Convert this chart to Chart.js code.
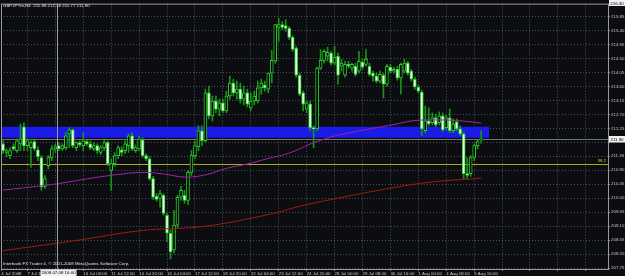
<!DOCTYPE html>
<html>
<head>
<title>GBPJPYm,H4</title>
<script src="https://cdn.jsdelivr.net/npm/chart.js"></script>
<style>
    html, body { margin: 0; padding: 0; background: #0c0d11; }
    #chart { display: block; }
</style>
</head>
<body>
<canvas id="chart" width="625" height="276"></canvas>
<script>
// H4 bars (bar 0 = first bar on the left)
const opens = [211.75,211.47,211.37,211.66,211.53,211.75,212.30,211.69,211.63,211.82,211.56,211.31,210.38,211.05,211.31,211.59,211.69,211.59,211.63,212.07,
    212.20,211.63,211.79,211.69,211.82,211.75,211.59,211.69,211.47,211.63,211.79,210.89,211.11,211.37,211.56,211.53,211.69,212.01,211.53,211.59,
    211.88,211.37,211.27,210.63,210.06,209.99,210.09,209.45,208.87,208.33,209.13,210.03,210.09,209.93,210.83,211.37,211.66,212.17,211.85,213.39,
    212.65,213.13,212.87,213.07,212.81,213.29,213.71,213.39,213.51,213.19,213.39,212.91,213.13,213.13,213.55,213.64,213.51,214.03,214.41,215.50,
    215.59,215.56,215.47,215.18,214.83,213.96,213.39,212.87,213.03,212.27,212.23,214.19,214.44,214.57,214.67,214.35,214.57,214.25,213.96,214.31,
    214.19,214.25,214.09,214.38,214.31,214.25,214.03,213.93,213.77,213.96,213.67,214.22,214.09,214.15,213.87,214.09,214.35,214.09,213.83,213.58,
    213.42,212.17,212.49,212.43,212.59,212.43,212.65,212.27,212.59,212.17,212.46,212.23,212.07,210.79,210.79,211.31,211.69,211.88];
const highs = [211.85,211.59,211.63,211.75,211.91,212.39,212.43,211.91,211.85,211.91,211.66,211.37,210.73,211.37,211.69,211.75,211.79,211.75,212.11,212.27,
    212.23,211.82,211.85,212.11,211.88,211.85,211.79,211.75,211.69,211.91,211.85,211.27,211.47,211.69,211.66,211.85,212.07,212.11,211.72,212.01,
    211.95,211.43,211.34,210.70,210.15,210.25,210.15,209.51,208.97,209.61,210.09,210.38,210.25,210.89,211.53,211.85,212.33,212.33,213.51,213.61,
    213.29,213.29,213.19,213.19,213.45,213.93,213.83,213.77,213.71,213.61,213.51,213.39,213.45,213.77,213.83,213.77,214.03,214.76,215.59,215.79,
    215.69,215.75,215.53,215.24,214.89,214.03,213.45,213.13,213.13,212.33,214.22,214.79,214.79,214.86,214.73,214.89,214.67,214.47,214.41,214.41,
    214.35,214.35,214.73,214.47,214.79,214.35,214.09,214.03,214.09,214.03,214.31,214.31,214.22,214.25,214.35,214.47,214.41,214.15,213.90,213.64,
    213.48,212.97,212.91,212.75,212.71,212.78,212.75,212.68,212.87,212.55,212.55,212.33,212.14,211.31,211.37,211.75,211.88,212.18];
const lows = [211.43,211.34,211.27,211.53,211.47,211.53,211.53,211.53,210.99,211.53,211.21,210.25,210.31,210.95,211.21,211.47,211.53,211.53,211.56,211.63,
    211.63,211.53,211.66,211.53,211.69,211.56,211.53,211.43,211.40,211.53,211.05,210.25,211.02,211.27,211.37,211.43,211.47,211.53,211.47,211.53,
    211.31,211.21,210.57,209.96,209.90,209.71,209.45,208.59,208.04,208.23,209.03,209.93,209.83,209.80,210.73,211.27,211.53,211.69,211.79,212.55,
    212.49,212.75,212.65,212.75,212.75,213.19,213.29,213.19,213.07,213.00,212.94,212.81,213.00,213.07,213.35,213.45,213.39,213.71,214.35,215.05,
    215.43,215.37,215.11,214.73,213.90,213.29,212.81,212.75,212.17,211.63,212.17,214.15,214.35,214.41,214.28,214.28,213.67,214.09,213.90,214.19,
    214.09,213.93,214.03,214.15,214.25,213.93,213.77,213.71,213.71,213.23,213.61,214.03,214.03,213.80,213.35,214.03,213.96,213.77,213.51,213.39,
    212.01,212.11,212.33,212.36,212.30,212.36,212.14,212.20,212.11,212.11,212.17,212.01,210.63,210.63,210.70,211.21,211.59,211.77];
const closes = [211.53,211.53,211.53,211.59,211.85,211.91,211.69,211.85,211.79,211.59,211.34,210.35,210.63,211.31,211.59,211.66,211.59,211.69,212.01,212.20,
    211.69,211.79,211.72,211.85,211.75,211.63,211.69,211.53,211.63,211.79,211.11,211.11,211.37,211.63,211.47,211.75,212.01,211.59,211.63,211.91,
    211.37,211.27,210.63,210.03,209.96,210.15,209.51,208.87,208.27,209.13,210.03,210.25,209.93,210.83,211.37,211.69,212.17,211.85,213.39,212.65,
    213.13,212.87,213.07,212.81,213.29,213.71,213.39,213.51,213.19,213.39,213.03,213.13,213.29,213.55,213.71,213.55,214.03,214.44,215.59,215.59,
    215.50,215.47,215.18,214.79,213.96,213.35,213.03,213.07,212.27,212.23,214.19,214.44,214.73,214.70,214.35,214.54,213.96,214.35,214.31,214.25,
    214.31,213.99,214.41,214.22,214.47,213.99,213.93,213.77,213.99,213.67,214.25,214.09,214.15,213.87,214.31,214.35,214.03,213.83,213.58,213.45,
    212.23,212.49,212.39,212.59,212.36,212.65,212.20,212.59,212.17,212.39,212.23,212.07,210.79,210.73,211.31,211.69,211.82,211.90];

// moving averages, read at a few bars
const maPurpleBars = [0, 8, 16, 24, 32, 40, 46, 52, 58, 64, 70, 76, 82, 88, 94, 100, 106, 112, 118, 124, 130, 137];
const maPurpleVals = [210.26,210.36,210.47,210.62,210.75,210.83,210.78,210.68,210.75,210.96,211.10,211.28,211.45,211.74,211.97,212.12,212.25,212.37,212.50,212.52,212.50,212.42];
const maRedBars = [0, 20, 40, 54, 62, 70, 79, 85, 96, 108, 122, 137];
const maRedVals = [208.31,208.62,208.96,209.05,209.16,209.33,209.55,209.74,210.00,210.26,210.51,210.64];

// objects on the chart
const zoneBars = [-5, 139.3];
const zonePrices = [211.945, 212.30];
const fiboPrice = 211.11;
const fiboText = '38.2';
const crossBar = 15.5;
const crossText = '2008.07.08 16:00';
const topText = '216.30';

// axes
const xTickBars = [-0.5, 7, 15, 23, 31, 39, 47, 55, 63, 71, 79, 87, 95, 103, 111, 119, 127, 135, 143, 151, 159, 167];
const xTickLabels = ['4 Jul 2008', '7 Jul 16:00', '9 Jul 00:00', '10 Jul 00:00', '11 Jul 12:00', '14 Jul 20:00', '16 Jul 04:00',
    '17 Jul 12:00', '18 Jul 20:00', '22 Jul 04:00', '23 Jul 12:00', '24 Jul 20:00', '28 Jul 00:00', '29 Jul 08:00',
    '30 Jul 16:00', '1 Aug 00:00', '4 Aug 08:00', '5 Aug 16:00'];
const yTicks = [207.75, 208.20, 208.65, 209.10, 209.55, 210.00, 210.45, 210.90, 211.35, 211.80, 212.25, 212.70, 213.15, 213.60, 214.05, 214.50, 214.95, 215.40, 215.85];

const title = 'GBPJPYm,H4  211.88 212.18 211.77 211.90';
const copyright = 'Interbank FX Trader 4, \u00a9 2001-2008 MetaQuotes Software Corp.';

const last = closes.length - 1;
const tinyFont = '4.4px "Liberation Sans", Arial, sans-serif';

const wicks = lows.map((l, i) => ({ x: i, y: [l, highs[i]] }));
const bodies = opens.map((o, i) => ({ x: i, y: [o, closes[i]] }));
const bodyFill = opens.map((o, i) => closes[i] >= o ? '#000000' : '#e4ffe4');

function box(c, x, y, w, h, text) {
    c.fillStyle = '#f0f0f0';
    c.fillRect(x, y, w, h);
    c.fillStyle = '#000000';
    c.textAlign = 'center';
    c.textBaseline = 'middle';
    c.fillText(text, x + w / 2, y + h / 2 + 0.3);
}

const mt4 = {
    id: 'mt4',
    beforeDraw(chart) {
        const c = chart.ctx;
        c.save();
        c.fillStyle = '#0c0d11';
        c.fillRect(0, 0, chart.width, chart.height);
        c.restore();
    },
    beforeDatasetsDraw(chart) {
        const { ctx: c, chartArea: a, scales: { x, y } } = chart;
        c.save();
        c.beginPath();
        c.rect(a.left, a.top, a.right - a.left, a.bottom - a.top);
        c.clip();
        // rectangle object
        const x0 = x.getPixelForValue(zoneBars[0]), x1 = x.getPixelForValue(zoneBars[1]);
        const y0 = y.getPixelForValue(zonePrices[1]), y1 = y.getPixelForValue(zonePrices[0]);
        c.fillStyle = '#1b1be8';
        c.fillRect(x0, y0, x1 - x0, y1 - y0);
        // fibo level
        const fy = Math.round(y.getPixelForValue(fiboPrice)) + 0.5;
        c.strokeStyle = '#a8a820';
        c.lineWidth = 1;
        c.beginPath(); c.moveTo(a.left, fy); c.lineTo(a.right, fy); c.stroke();
        // bid line
        const by = Math.round(y.getPixelForValue(closes[last])) + 0.5;
        c.strokeStyle = '#707478';
        c.beginPath(); c.moveTo(a.left, by); c.lineTo(a.right, by); c.stroke();
        c.restore();
    },
    afterDraw(chart) {
        const { ctx: c, chartArea: a, scales: { x, y } } = chart;
        c.save();
        // crosshair
        const cx = Math.round(x.getPixelForValue(crossBar)) + 0.5;
        c.strokeStyle = '#9a9a9a';
        c.lineWidth = 1;
        c.beginPath(); c.moveTo(cx, a.top); c.lineTo(cx, a.bottom); c.stroke();
        // frame
        c.strokeStyle = '#9a9a9a';
        c.strokeRect(a.left + 0.5, a.top + 0.5, a.right - a.left, a.bottom - a.top);

        c.font = tinyFont;
        // texts
        c.fillStyle = '#e0e0e0';
        c.textAlign = 'left';
        c.textBaseline = 'middle';
        c.fillText(title, 3, 6);
        c.fillText(copyright, 3, a.bottom - 5);
        c.fillStyle = '#c8c820';
        c.textAlign = 'right';
        c.fillText(fiboText, a.right - 2, y.getPixelForValue(fiboPrice) - 3);
        // label boxes
        box(c, cx - 17, a.bottom + 0.5, 36, 6.5, crossText);
        box(c, a.right + 1, Math.round(y.getPixelForValue(closes[last])) - 3, 16, 6.5, closes[last].toFixed(2));
        box(c, a.right + 1, 0, 16, 6, topText);
        c.restore();
    }
};

new Chart(document.getElementById('chart'), {
    type: 'bar',
    data: {
        datasets: [
            {
                type: 'line', data: maPurpleBars.map((b, i) => ({ x: b, y: maPurpleVals[i] })),
                borderColor: '#a022a6', borderWidth: 1, pointRadius: 0, tension: 0.4, order: 0
            },
            {
                type: 'line', data: maRedBars.map((b, i) => ({ x: b, y: maRedVals[i] })),
                borderColor: '#a01818', borderWidth: 1, pointRadius: 0, tension: 0.4, order: 0
            },
            {
                data: bodies, backgroundColor: bodyFill, borderColor: '#2fcc2f', borderWidth: 1,
                borderSkipped: false, barThickness: 3, minBarLength: 1, grouped: false, order: 1
            },
            {
                data: wicks, backgroundColor: '#169416', borderWidth: 0,
                barThickness: 1, grouped: false, order: 2
            }
        ]
    },
    options: {
        responsive: false,
        animation: false,
        events: [],
        layout: { padding: { top: 2, left: 1, right: 0, bottom: 0 } },
        plugins: { legend: { display: false }, tooltip: { enabled: false } },
        scales: {
            x: {
                type: 'linear',
                min: -0.573,
                max: 173.35,
                offset: false,
                grid: { offset: false, color: 'rgba(120,126,136,0.6)', tickLength: 2, tickColor: '#8a8a8a' },
                border: { display: false, dash: [1, 2] },
                afterBuildTicks: s => { s.ticks = xTickBars.map(v => ({ value: v })); },
                afterFit: s => { s.height = 7; },
                ticks: {
                    autoSkip: false, maxRotation: 0, align: 'start', padding: 0,
                    color: '#c8c8c8', font: { family: '"Liberation Sans", Arial, sans-serif', size: 4.4 },
                    callback: v => xTickLabels[xTickBars.indexOf(v)] || ''
                }
            },
            y: {
                position: 'right',
                min: 207.718,
                max: 216.266,
                grid: { color: 'rgba(120,126,136,0.6)', tickLength: 2, tickColor: '#8a8a8a' },
                border: { display: false, dash: [1, 2] },
                afterBuildTicks: s => { s.ticks = yTicks.map(v => ({ value: v })); },
                afterFit: s => { s.width = 17; },
                ticks: {
                    padding: 1,
                    color: '#c8c8c8', font: { family: '"Liberation Sans", Arial, sans-serif', size: 4.4 },
                    callback: v => Math.abs(v - closes[last]) < 0.2 ? '' : v.toFixed(2)
                }
            }
        }
    },
    plugins: [mt4]
});
</script>
</body>
</html>
